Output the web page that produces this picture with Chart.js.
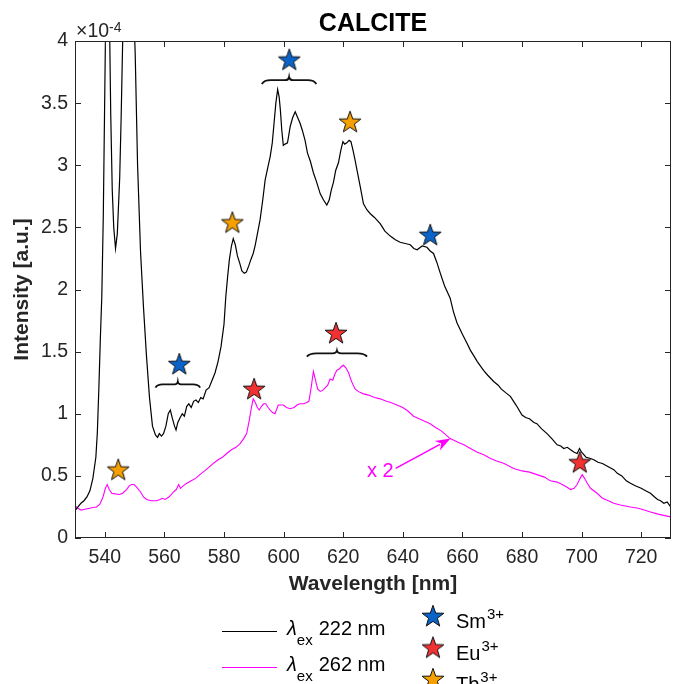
<!DOCTYPE html>
<html><head><meta charset="utf-8">
<script src="https://cdn.jsdelivr.net/npm/chart.js@4.4.1/dist/chart.umd.min.js"></script>
<style>html,body{margin:0;padding:0;background:#fff}#wrap{width:678px;height:684px;position:relative}</style>
</head><body><div id="wrap"><canvas id="c"></canvas></div>
<script>
// ---------- DATA (intensity in units of 1e-4) ----------
const wl222 = [530,531,532,533,534,535,536,537,537.5,538,538.5,539,539.5,540,540.5,541,541.5,542,542.5,543,543.6,544.2,545,545.5,546,546.5,547.5,548.5,549.5,550.2,551,552,553,554,555,556,557,557.7,558.3,559,559.7,560.5,561.3,562,562.7,563.4,563.9,564.5,565.3,566,566.7,567.5,568.2,569,569.8,570.6,571.4,572.2,573,574,575,576,577,578,579,580,580.6,581.2,581.8,582.5,583.1,583.8,584.5,585.3,586,586.8,587.5,588.3,589,589.8,590.5,591.3,592.1,593,593.8,594.6,595.5,596.2,596.8,597.4,598,598.5,598.9,599.4,599.9,600.5,601.3,601.8,602.2,603,603.9,604.6,605.5,606.3,607.2,608,609,610,611,612.3,613.4,614.5,615.3,616,616.7,617.5,618.4,619.2,619.9,620.5,621.2,622,622.6,623.3,624,624.8,625.7,626.8,628,629.1,630.5,632.4,634,635.8,637.5,639.1,640.8,642.5,643.7,644.8,646.5,648.1,649.2,650.3,651.4,652.6,654,655.9,657,658.2,660,661.5,662.7,664,665,667.1,668.5,670.5,672,673,674.5,676.1,678,680,681.2,682.5,684,685,686.5,688.4,690,691.8,693,694,695.2,696.3,697.5,698.5,699.3,700,701.5,703,704.1,705.5,707,708.5,710.8,712,713.5,715,716.4,718,720,721.5,723.1,724.5,725.5,726.5,727.6,728.7,729.9];
const int222 = [0.22,0.25,0.28,0.30,0.33,0.38,0.48,0.65,0.85,1.2,1.6,1.95,2.6,3.6,4.6,4.9,4.3,3.4,2.8,2.5,2.33,2.45,2.9,3.4,4.0,4.6,5.0,4.9,4.4,3.9,3.0,2.3,1.85,1.46,1.13,0.90,0.83,0.81,0.84,0.82,0.84,0.90,1.00,1.03,0.96,0.90,0.87,0.93,0.97,1.00,0.98,1.06,1.08,1.05,1.10,1.11,1.09,1.13,1.12,1.19,1.21,1.27,1.33,1.42,1.54,1.72,1.94,2.10,2.24,2.35,2.41,2.36,2.27,2.21,2.15,2.13,2.14,2.19,2.24,2.29,2.36,2.46,2.56,2.72,2.88,2.97,3.07,3.18,3.34,3.50,3.61,3.55,3.45,3.28,3.16,3.17,3.18,3.25,3.31,3.38,3.43,3.39,3.34,3.28,3.20,3.10,3.03,2.94,2.87,2.77,2.72,2.68,2.72,2.80,2.86,2.96,3.02,3.12,3.19,3.17,3.18,3.20,3.19,3.12,3.04,2.94,2.83,2.69,2.64,2.61,2.58,2.53,2.47,2.43,2.40,2.38,2.37,2.36,2.33,2.32,2.35,2.34,2.31,2.29,2.22,2.13,2.03,1.93,1.82,1.73,1.64,1.57,1.51,1.46,1.42,1.35,1.31,1.26,1.23,1.20,1.17,1.14,1.07,0.99,0.97,0.96,0.93,0.92,0.88,0.84,0.80,0.75,0.74,0.72,0.73,0.71,0.69,0.68,0.72,0.69,0.65,0.64,0.63,0.61,0.60,0.58,0.55,0.52,0.50,0.46,0.44,0.42,0.40,0.38,0.36,0.33,0.31,0.30,0.28,0.29,0.25];
const wl262 = [530,531,532,533,534,535,536,537.2,538.3,539.4,540.2,540.8,541.5,542.3,543.5,545,546,547.3,548.2,549,549.8,550.7,552,553,554,555.5,557.4,558.5,559.3,560.2,561.5,563,564,564.8,565.4,566.3,567.5,569,570.5,571.9,573.5,575,576.4,578,579.5,580.9,582.5,584,585.4,586.6,587.6,588.5,589.2,589.8,590.5,591.2,591.8,592.6,593.3,594,594.8,595.5,596.3,597.1,597.6,598.2,599,599.9,601,602.2,603.5,604.5,605.5,606.7,607.8,608.5,609.3,610,610.7,611.4,612.3,613.2,614,614.8,615.6,616.5,617.2,617.9,618.7,619.4,620.1,620.9,621.8,622.8,624,625,626.8,628.5,630.5,632.4,634.5,636,638,640,641.8,643.6,645.5,647.3,649.2,651,653,655.9,658.5,660.5,662.7,665,667.2,669.4,671.5,674,677.2,680,682.5,685,687.5,689.5,691.8,693.5,695,696.3,697.5,698.5,699.5,700.2,701,701.9,703,705.2,707,709,710.8,713,716.4,719,721,723.1,726,729.9];
const int262 = [0.26,0.24,0.225,0.23,0.235,0.24,0.245,0.25,0.27,0.33,0.40,0.43,0.39,0.36,0.355,0.35,0.36,0.39,0.42,0.43,0.43,0.41,0.37,0.33,0.31,0.30,0.30,0.31,0.32,0.31,0.33,0.37,0.39,0.43,0.40,0.42,0.44,0.46,0.48,0.51,0.54,0.57,0.60,0.63,0.65,0.68,0.71,0.73,0.76,0.80,0.84,0.95,1.05,1.12,1.09,1.05,1.03,1.06,1.08,1.08,1.05,1.03,1.01,1.00,1.03,1.07,1.07,1.07,1.05,1.04,1.05,1.07,1.08,1.08,1.09,1.10,1.22,1.34,1.27,1.20,1.18,1.19,1.21,1.23,1.28,1.27,1.32,1.35,1.36,1.38,1.39,1.37,1.33,1.26,1.20,1.18,1.16,1.15,1.13,1.12,1.10,1.09,1.07,1.05,1.02,0.98,0.96,0.94,0.92,0.89,0.86,0.80,0.77,0.75,0.72,0.69,0.67,0.64,0.62,0.60,0.56,0.54,0.53,0.51,0.49,0.46,0.45,0.43,0.41,0.39,0.40,0.43,0.48,0.51,0.48,0.44,0.40,0.36,0.32,0.30,0.28,0.265,0.25,0.24,0.225,0.21,0.19,0.17];
const smWl = [565, 601.9, 649.2];
const smInt = [1.40, 3.85, 2.44];
const euWl = [590.1, 617.6, 699.4];
const euInt = [1.20, 1.65, 0.61];
const tbWl = [544.5, 582.8, 622.3];
const tbInt = [0.55, 2.54, 3.35];
const xTicks = [540,560,580,600,620,640,660,680,700,720];
const yTicks = [0,0.5,1,1.5,2,2.5,3,3.5,4];
const lineLabels = ['222 nm', '262 nm'];
const ionLabels = ['Sm', 'Eu', 'Tb'];

// ---------- helpers ----------
const FONT = "'Liberation Sans', Arial, Helvetica, sans-serif";
const TXT = '#262626';
const MAG = '#ff00ff';
const toXY = (xs, ys) => xs.map((v, i) => ({x: v, y: ys[i]}));
function starImage(color) {
  const s = 26, c = document.createElement('canvas');
  c.width = s; c.height = s;
  const g = c.getContext('2d');
  g.beginPath();
  for (let i = 0; i < 10; i++) {
    const r = i % 2 ? 4.6 : 11.5;
    const ang = -Math.PI / 2 + i * Math.PI / 5;
    g.lineTo(13 + r * Math.cos(ang), 13.8 + r * Math.sin(ang));
  }
  g.closePath();
  g.fillStyle = color; g.fill();
  g.lineWidth = 1; g.strokeStyle = '#111'; g.stroke();
  return c;
}
const starColors = ['#0a64c8', '#f23232', '#f5a000'];
const starImgs = starColors.map(starImage);

function drawBrace(ctx, x1, x2, yb, h) {
  const w = x2 - x1, xm = (x1 + x2) / 2, yf = yb - h * 0.55;
  ctx.beginPath();
  ctx.moveTo(x1, yb);
  ctx.quadraticCurveTo(x1 + 0.04 * w, yf, x1 + 0.16 * w, yf);
  ctx.lineTo(xm - 0.07 * w, yf);
  ctx.quadraticCurveTo(xm - 0.01 * w, yf, xm, yb - h);
  ctx.quadraticCurveTo(xm + 0.01 * w, yf, xm + 0.07 * w, yf);
  ctx.lineTo(x2 - 0.16 * w, yf);
  ctx.quadraticCurveTo(x2 - 0.04 * w, yf, x2, yb);
  ctx.stroke();
}
function rich(ctx, x, y, parts) {
  let cx = x;
  parts.forEach(p => {
    ctx.font = (p.style || '') + ' ' + p.size + 'px ' + FONT;
    ctx.fillText(p.t, cx, y + (p.dy || 0));
    cx += ctx.measureText(p.t).width + (p.gap || 0);
  });
}

const braces = [
  {x1: 592.7, x2: 611, y: 3.654, h: 7},
  {x1: 557, x2: 572, y: 1.21, h: 6},
  {x1: 607.8, x2: 628, y: 1.46, h: 6}
];
const arrow = {from: [637.6, 0.56], to: [656, 0.80], text: 'x 2'};

const annPlugin = {
  id: 'ann',
  afterDraw(chart) {
    const {ctx, chartArea: a, scales: {x, y}} = chart;
    ctx.save();
    // frame and inner ticks
    ctx.strokeStyle = TXT; ctx.lineWidth = 1;
    ctx.strokeRect(a.left + 0.5, a.top + 0.5, a.width - 1, a.height - 1);
    ctx.beginPath();
    xTicks.forEach(v => {
      const px = Math.round(x.getPixelForValue(v)) + 0.5;
      ctx.moveTo(px, a.bottom); ctx.lineTo(px, a.bottom - 6);
      ctx.moveTo(px, a.top); ctx.lineTo(px, a.top + 6);
    });
    yTicks.forEach(v => {
      const py = Math.round(y.getPixelForValue(v)) + 0.5;
      ctx.moveTo(a.left, py); ctx.lineTo(a.left + 6, py);
      ctx.moveTo(a.right, py); ctx.lineTo(a.right - 6, py);
    });
    ctx.stroke();

    // braces
    ctx.strokeStyle = '#111'; ctx.lineWidth = 1.8;
    braces.forEach(b => drawBrace(ctx, x.getPixelForValue(b.x1), x.getPixelForValue(b.x2), y.getPixelForValue(b.y), b.h));

    // arrow + text
    const fx = x.getPixelForValue(arrow.from[0]), fy = y.getPixelForValue(arrow.from[1]);
    const tx = x.getPixelForValue(arrow.to[0]), ty = y.getPixelForValue(arrow.to[1]);
    const ang = Math.atan2(ty - fy, tx - fx);
    const hl = 15, hw = 5.5;
    ctx.strokeStyle = MAG; ctx.fillStyle = MAG; ctx.lineWidth = 1.5;
    ctx.beginPath(); ctx.moveTo(fx, fy);
    ctx.lineTo(tx - hl * 0.8 * Math.cos(ang), ty - hl * 0.8 * Math.sin(ang)); ctx.stroke();
    ctx.beginPath();
    ctx.moveTo(tx, ty);
    ctx.lineTo(tx - hl * Math.cos(ang) + hw * Math.sin(ang), ty - hl * Math.sin(ang) - hw * Math.cos(ang));
    ctx.lineTo(tx - hl * 0.7 * Math.cos(ang), ty - hl * 0.7 * Math.sin(ang));
    ctx.lineTo(tx - hl * Math.cos(ang) - hw * Math.sin(ang), ty - hl * Math.sin(ang) + hw * Math.cos(ang));
    ctx.closePath(); ctx.fill();
    ctx.font = '20px ' + FONT; ctx.textAlign = 'right'; ctx.textBaseline = 'middle';
    ctx.fillText(arrow.text, fx - 2, fy + 3);

    // title
    ctx.fillStyle = '#000'; ctx.textAlign = 'center'; ctx.textBaseline = 'alphabetic';
    ctx.font = 'bold 25px ' + FONT;
    ctx.fillText('CALCITE', (a.left + a.right) / 2, 31);

    // axis titles
    ctx.fillStyle = TXT;
    ctx.font = 'bold 21px ' + FONT;
    ctx.fillText('Wavelength [nm]', (a.left + a.right) / 2, 590);
    ctx.save(); ctx.translate(28, (a.top + a.bottom) / 2); ctx.rotate(-Math.PI / 2);
    ctx.fillText('Intensity [a.u.]', 0, 0); ctx.restore();

    // exponent
    ctx.textAlign = 'left';
    rich(ctx, 76, 37, [{t: '\u00d710', size: 19.5}, {t: '-4', size: 14, dy: -5}]);

    // legend
    const ds = chart.data.datasets;
    ctx.lineWidth = 1.2;
    let li = 0, si = 0;
    ds.forEach(d => {
      if (d.kind === 'line') {
        const yy = 631 + li * 36;
        ctx.strokeStyle = d.borderColor; ctx.beginPath();
        ctx.moveTo(222, yy + 0.5); ctx.lineTo(277, yy + 0.5); ctx.stroke();
        ctx.fillStyle = '#000';
        rich(ctx, 287, yy + 4, [{t: '\u03bb', size: 20, style: 'italic', gap: 0}, {t: 'ex', size: 15, dy: 10, gap: 6}, {t: d.label, size: 20}]);
        li++;
      } else {
        const yy = 617 + si * 31.5;
        ctx.drawImage(d.pointStyle, 420, yy - 14);
        ctx.fillStyle = '#000';
        rich(ctx, 456, yy + 11, [{t: d.label, size: 20, gap: 1}, {t: '3+', size: 15, dy: -9}]);
        si++;
      }
    });
    ctx.restore();
  }
};

const datasets = [
  {label: lineLabels[0], kind: 'line', data: toXY(wl222, int222), borderColor: '#000', borderWidth: 1.2, pointRadius: 0, tension: 0, order: 2},
  {label: lineLabels[1], kind: 'line', data: toXY(wl262, int262), borderColor: MAG, borderWidth: 1.1, pointRadius: 0, tension: 0, order: 2},
  {label: ionLabels[0], kind: 'star', type: 'scatter', data: toXY(smWl, smInt), pointStyle: starImgs[0], showLine: false, order: 0},
  {label: ionLabels[1], kind: 'star', type: 'scatter', data: toXY(euWl, euInt), pointStyle: starImgs[1], showLine: false, order: 0},
  {label: ionLabels[2], kind: 'star', type: 'scatter', data: toXY(tbWl, tbInt), pointStyle: starImgs[2], showLine: false, order: 0}
];

new Chart(document.getElementById('c'), {
  type: 'line',
  data: {datasets},
  plugins: [annPlugin],
  options: {
    responsive: true, maintainAspectRatio: false, animation: false,
    layout: {padding: {top: 41, right: 7, left: 0, bottom: 0}},
    plugins: {legend: {display: false}, tooltip: {enabled: false}, title: {display: false}},
    scales: {
      x: {
        type: 'linear', min: 530, max: 730,
        afterBuildTicks: s => { s.ticks = xTicks.map(v => ({value: v})); },
        afterFit: s => { s.height = 146; },
        grid: {drawOnChartArea: false, drawTicks: false},
        border: {display: false},
        ticks: {padding: 8, color: TXT, font: {family: FONT, size: 19.5}, maxRotation: 0, autoSkip: false, callback: v => String(v)}
      },
      y: {
        type: 'linear', min: 0, max: 4,
        afterBuildTicks: s => { s.ticks = yTicks.map(v => ({value: v})); },
        afterFit: s => { s.width = 75; },
        grid: {drawOnChartArea: false, drawTicks: false},
        border: {display: false},
        ticks: {padding: 7, color: TXT, font: {family: FONT, size: 19.5}, autoSkip: false, callback: v => String(v)}
      }
    }
  }
});
</script></body></html>
